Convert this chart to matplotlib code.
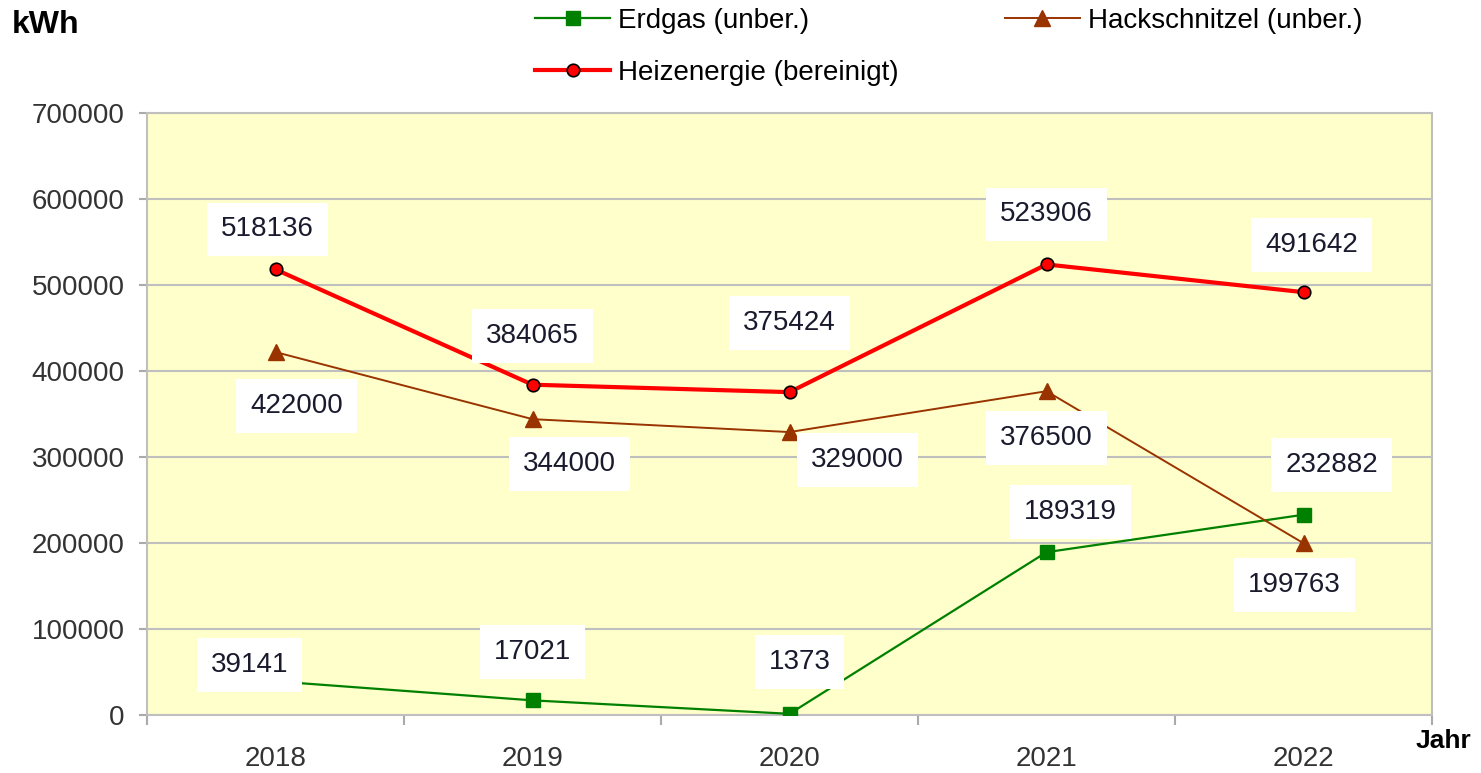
import matplotlib.pyplot as plt

plt.rcParams['font.family'] = ['Liberation Sans', 'DejaVu Sans']

years = ["2018", "2019", "2020", "2021", "2022"]
erdgas = [39141, 17021, 1373, 189319, 232882]
hackschnitzel = [422000, 344000, 329000, 376500, 199763]
heizenergie = [518136, 384065, 375424, 523906, 491642]

# label offsets in pixels (dx, dy)
off_heiz = [(-8, 40), (0, 49), (0, 69), (0, 50), (8, 47)]
off_hack = [(21, -54), (37, -45), (68, -28), (0, -47), (-9, -42)]
off_erd = [(-26, 16), (0, 48), (10, 52), (24, 40), (28, 50)]

fig = plt.figure(figsize=(14.81, 7.73), dpi=100)
ax = fig.add_axes([147 / 1481, 1 - 715 / 773, 1285 / 1481, 602 / 773])
ax.set_facecolor('#FFFFCC')

x = list(range(len(years)))
ax.plot(x, erdgas, color='#008000', lw=1.6, marker='s', ms=10,
        label='Erdgas (unber.)', zorder=3)
ax.plot(x, heizenergie, color='#FF0000', lw=3, marker='o', ms=9,
        mfc='#FF0000', mec='black', mew=1.2, label='Heizenergie (bereinigt)', zorder=4)
ax.plot(x, hackschnitzel, color='#993300', lw=1.4, marker='^', ms=11,
        label='Hackschnitzel (unber.)', zorder=3)

box = dict(boxstyle='square,pad=0.5', fc='white', ec='none')
for vals, offs in [(heizenergie, off_heiz), (hackschnitzel, off_hack), (erdgas, off_erd)]:
    for i, (v, o) in enumerate(zip(vals, offs)):
        ax.annotate(str(v), (i, v), xytext=o, textcoords='offset pixels',
                    ha='center', va='center', fontsize=20, color='#1a1a2e',
                    bbox=box, zorder=6)

ax.set_xlim(-0.5, 4.5)
ax.set_ylim(0, 700000)
ax.set_yticks(range(0, 700001, 100000))
ax.set_xticks(x)
ax.set_xticklabels(years)
ax.set_xticks([i - 0.5 for i in range(6)], minor=True)
ax.tick_params(axis='x', which='major', length=0, pad=22, labelsize=20, colors='#333333')
ax.tick_params(axis='x', which='minor', length=7, color='#AAAAAA', width=1.5)
ax.tick_params(axis='y', length=6, pad=10, labelsize=20, colors='#333333', color='#AAAAAA', width=1.5)
ax.grid(axis='y', color='#BFBFBF', lw=1.5)
ax.set_axisbelow(True)
for s in ax.spines.values():
    s.set_color('#BFBFBF')
    s.set_linewidth(1.5)

fig.text(12 / 1481, 1 - 25 / 773, 'kWh', fontsize=23, fontweight='bold', va='center', ha='left')
fig.text(1443 / 1481, 1 - 741 / 773, 'Jahr', fontsize=19, fontweight='bold', va='center', ha='center')

fig.legend(loc='upper left', bbox_to_anchor=(535 / 1481, 0.99), ncol=2, frameon=False,
           fontsize=20, handlelength=2.7, handletextpad=0.3, columnspacing=3.8,
           labelspacing=0.95, borderpad=0, borderaxespad=0)

fig.savefig('out.png', dpi=100)
